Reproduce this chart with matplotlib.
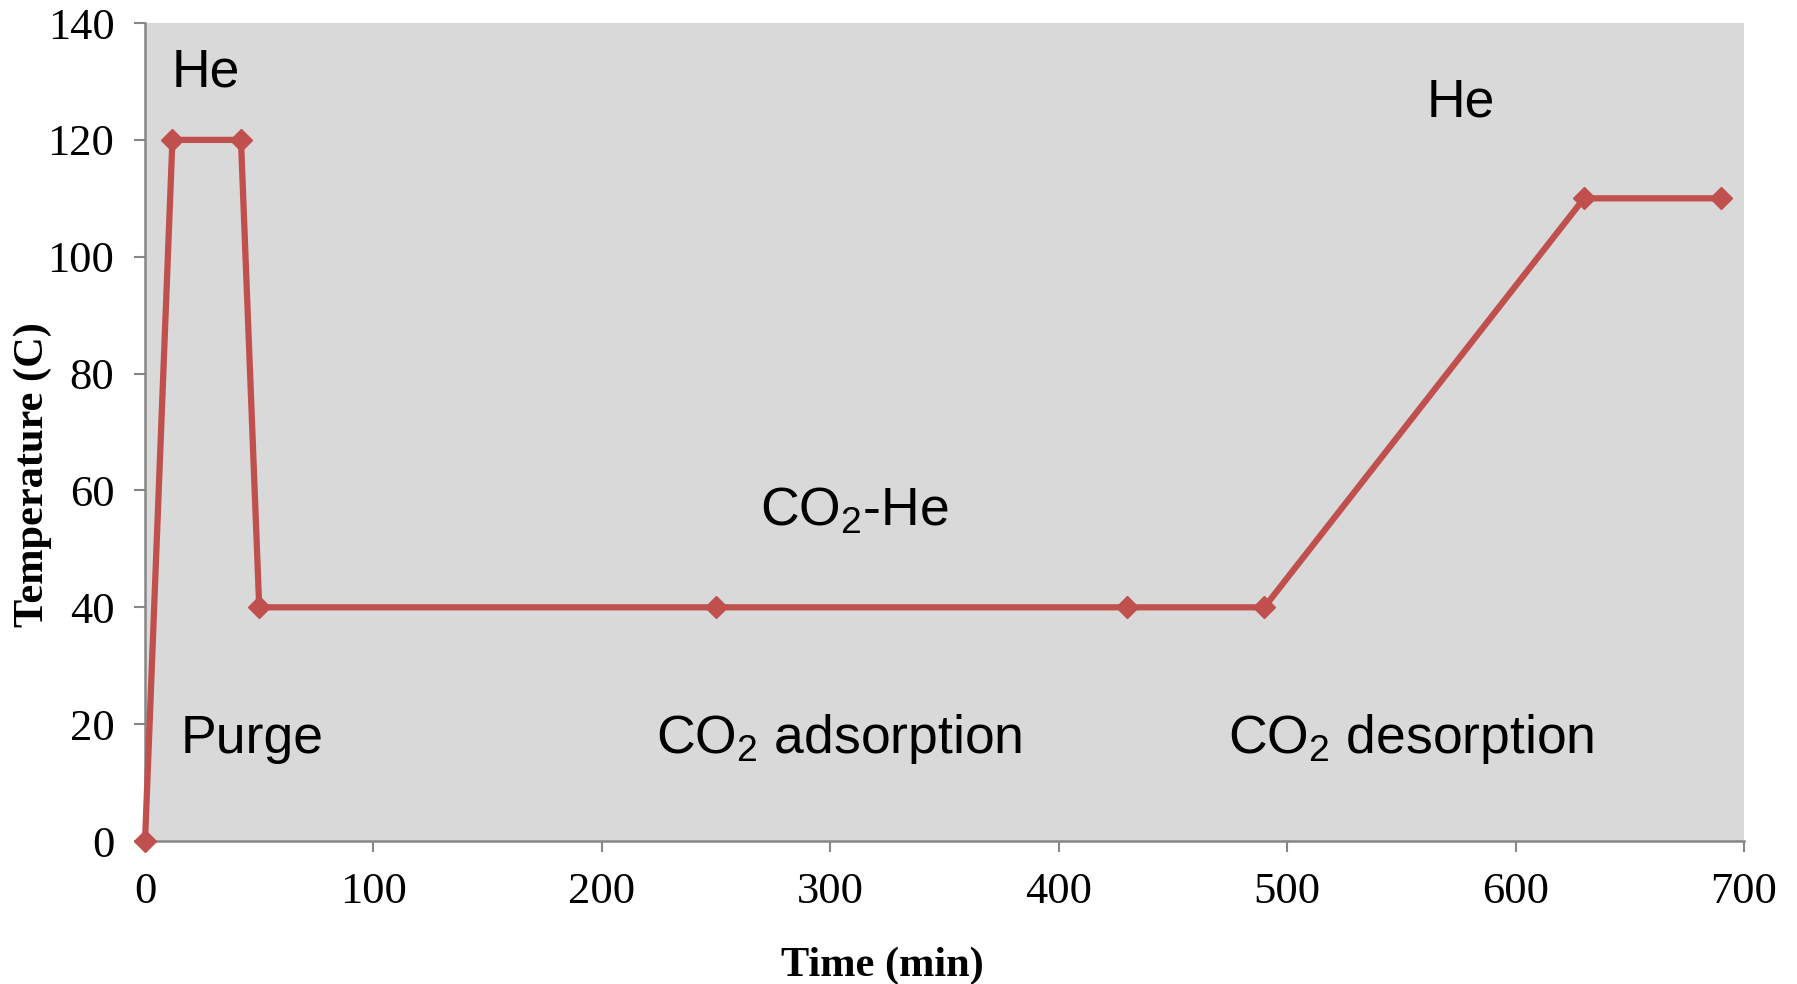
import matplotlib
matplotlib.use("Agg")
import matplotlib.pyplot as plt

# temperature program
time_min = [0, 12, 42, 50, 250, 430, 490, 630, 690]
temp_c = [0, 120, 120, 40, 40, 40, 40, 110, 110]

x_ticks = [0, 100, 200, 300, 400, 500, 600, 700]
y_ticks = [0, 20, 40, 60, 80, 100, 120, 140]

# stage labels: (text, x, y)
stage_labels = [
    ("He", 26.6, 131.6),
    ("He", 576, 126.4),
    ("CO$_2$-He", 310.6, 56.4),
    ("Purge", 46.7, 17.4),
    ("CO$_2$ adsorption", 304, 17.4),
    ("CO$_2$ desorption", 554.5, 17.4),
]

plt.rcParams["mathtext.default"] = "regular"

fig = plt.figure(figsize=(17.97, 9.84), dpi=100)
ax = fig.add_axes([0.0807, 0.1453, 0.8898, 0.8313])
ax.set_facecolor("#D9D9D9")

ax.plot(time_min, temp_c, color="#C0504D", lw=4.5, marker="D", ms=11,
        mec="#C0504D", mfc="#C0504D", clip_on=False, zorder=3)

for txt, x, y in stage_labels:
    ax.text(x, y, txt, ha="center", va="center", fontsize=38.5,
            family="Liberation Sans", color="black")

ax.set_xlim(0, 700)
ax.set_ylim(0, 140)
ax.set_xticks(x_ticks)
ax.set_yticks(y_ticks)

for s in ["top", "right"]:
    ax.spines[s].set_visible(False)
for s in ["left", "bottom"]:
    ax.spines[s].set_color("#868686")
    ax.spines[s].set_linewidth(1.8)

ax.tick_params(axis="both", direction="out", length=8, width=1.5,
               color="#868686", pad=14, labelsize=32)
for lab in ax.get_xticklabels() + ax.get_yticklabels():
    lab.set_family("Liberation Serif")

ax.set_xlabel("Time (min)", family="Liberation Serif", fontweight="bold",
              fontsize=30.5)
ax.set_ylabel("Temperature (C)", family="Liberation Serif", fontweight="bold",
              fontsize=30.5)
ax.xaxis.set_label_coords(0.461, -0.129)
ax.yaxis.set_label_coords(-0.058, 0.448)

fig.savefig("out.png", dpi=100)
